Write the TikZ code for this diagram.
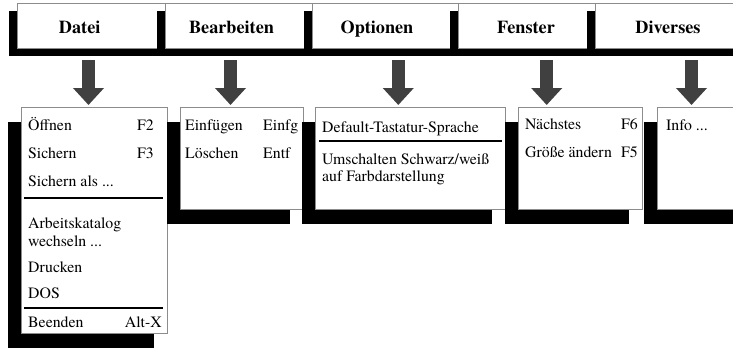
\documentclass[tikz,border=0pt]{standalone}
\usepackage{fontspec}
\setmainfont{texgyretermes}[Extension=.otf, UprightFont=*-regular, BoldFont=*-bold, ItalicFont=*-italic, BoldItalicFont=*-bolditalic]
\usetikzlibrary{arrows.meta,shadows}

\definecolor{framegray}{gray}{0.55}
\definecolor{arrowgray}{gray}{0.25}

\tikzset{
  barbox/.style={draw=framegray, line width=0.8pt, fill=white, anchor=north west,
    inner sep=0pt, outer sep=0pt,
    drop shadow={shadow xshift=-8pt, shadow yshift=-8pt, fill=black, opacity=1}},
  menubox/.style={draw=framegray, line width=0.8pt, fill=white, anchor=north west,
    inner sep=0pt, outer sep=0pt,
    drop shadow={shadow xshift=-13pt, shadow yshift=-15pt, fill=black, opacity=1}},
  barlabel/.style={anchor=base, inner sep=0pt, font=\fontsize{18.2}{20}\selectfont\bfseries},
  item/.style={anchor=base west, inner sep=0pt, font=\fontsize{15.8}{18}\selectfont},
  key/.style={anchor=base east, inner sep=0pt, font=\fontsize{15.8}{18}\selectfont},
  sepline/.style={line width=2.2pt, black},
  blockarrow/.style={draw=arrowgray, line width=12.5pt,
    -{Triangle[width=30pt,length=17pt]}}
}

\begin{document}
\begin{tikzpicture}[x=1pt,y=-1pt]
  \useasboundingbox (0,0) rectangle (733,349);

  % menu bar
  \node[barbox, minimum width=148pt, minimum height=45pt] (datei) at (17,3) {};
  \node[barbox, minimum width=147pt, minimum height=45pt] (bearb) at (165,3) {};
  \node[barbox, minimum width=146pt, minimum height=45pt] (optio) at (312,3) {};
  \node[barbox, minimum width=137pt, minimum height=45pt] (fenst) at (458,3) {};
  \node[barbox, minimum width=150pt, minimum height=45pt] (diver) at (595,3) {};

  \node[barlabel] (datei-l) at (79.7,33) {Datei};
  \node[barlabel] (bearb-l) at (231.5,33) {Bearbeiten};
  \node[barlabel] (optio-l) at (377,33) {Optionen};
  \node[barlabel] (fenst-l) at (526,33) {Fenster};
  \node[barlabel] (diver-l) at (668,33) {Diverses};

  % arrows from the bar down to the pull-down menus
  \coordinate (datei-a) at (88.5,60);  \coordinate (datei-b) at (88.5,105);
  \coordinate (bearb-a) at (230.5,60); \coordinate (bearb-b) at (230.5,105);
  \coordinate (optio-a) at (398.3,60); \coordinate (optio-b) at (398.3,105);
  \coordinate (fenst-a) at (546.7,60); \coordinate (fenst-b) at (546.7,105);
  \coordinate (diver-a) at (691.5,60); \coordinate (diver-b) at (691.5,105);
  \foreach \m in {datei,bearb,optio,fenst,diver}
    \draw[blockarrow] (\m-a) -- (\m-b);

  % pull-down menus
  \node[menubox, minimum width=146pt, minimum height=226pt] (datei-m) at (21,107) {};
  \node[menubox, minimum width=123pt, minimum height=102pt] (bearb-m) at (180,107) {};
  \node[menubox, minimum width=190pt, minimum height=102pt] (optio-m) at (315,107) {};
  \node[menubox, minimum width=124pt, minimum height=102pt] (fenst-m) at (518,107) {};
  \node[menubox, minimum width=92pt, minimum height=102pt] (diver-m) at (657,107) {};

  % Datei
  \node[item] (d1) at (28,130.7) {Öffnen};        \node[key] (d1k) at (154,130.7) {F2};
  \node[item] (d2) at (28,158) {Sichern};          \node[key] (d2k) at (154,158) {F3};
  \node[item] (d3) at (28,186) {Sichern als ...};
  \draw[sepline] (24,197.7) -- (163,197.7);
  \node[item] (d4) at (28,228) {Arbeitskatalog};
  \node[item] (d5) at (28,246) {wechseln ...};
  \node[item] (d6) at (28,272) {Drucken};
  \node[item] (d7) at (28,298) {DOS};
  \draw[sepline] (24,308) -- (163,308);
  \node[item] (d8) at (28,327) {Beenden};          \node[key] (d8k) at (162,327) {Alt-X};

  % Bearbeiten
  \node[item] (b1) at (185,130.7) {Einfügen};      \node[item] (b1k) at (263,130.7) {Einfg};
  \node[item] (b2) at (185,158) {Löschen};         \node[item] (b2k) at (263,158) {Entf};

  % Optionen
  \node[item] (o1) at (322,132) {Default-Tastatur-Sprache};
  \draw[sepline] (319,141) -- (502,141);
  \node[item] (o2) at (322,164) {Umschalten Schwarz/weiß};
  \node[item] (o3) at (322,181) {auf Farbdarstellung};

  % Fenster
  \node[item] (f1) at (525,129.5) {Nächstes};      \node[key] (f1k) at (638,129.5) {F6};
  \node[item] (f2) at (525,157) {Größe ändern};    \node[key] (f2k) at (638,157) {F5};

  % Diverses
  \node[item] (v1) at (666,130.7) {Info ...};
\end{tikzpicture}
\end{document}
